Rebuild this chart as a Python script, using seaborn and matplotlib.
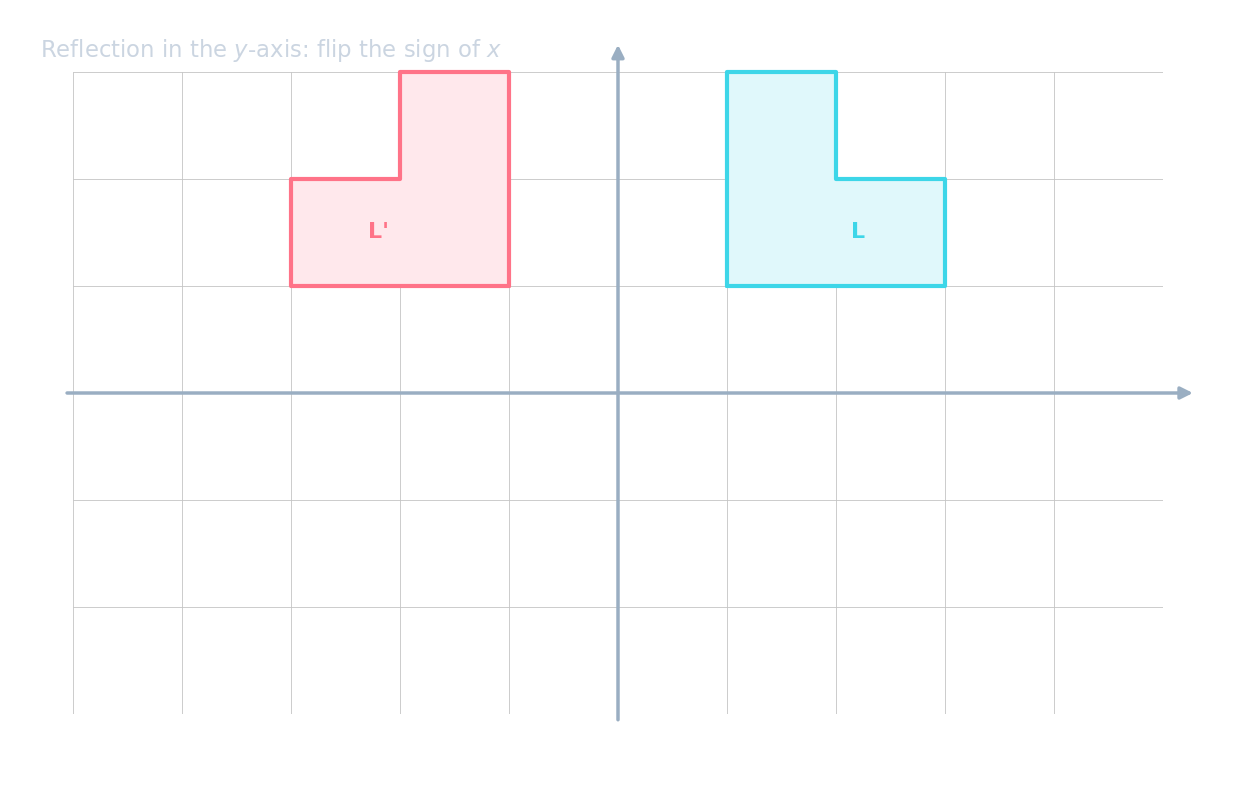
import matplotlib
matplotlib.use("Agg")
import matplotlib.pyplot as plt
import seaborn as sns
import pandas as pd

sns.set_theme(style="white")
plt.rcParams['font.family'] = ['DejaVu Sans']

# L shape and its reflection in the y-axis
shape_x = [1, 3, 3, 2, 2, 1, 1]
shape_y = [1, 1, 2, 2, 3, 3, 1]
refl_x = [-v for v in shape_x]
labels = ["L", "L'"]
label_x = [2.2, -2.2]
label_y = [1.5, 1.5]

df = pd.DataFrame({
    "x": shape_x + refl_x,
    "y": shape_y + shape_y,
    "shape": ["L"] * len(shape_x) + ["L'"] * len(refl_x),
    "order": list(range(len(shape_x))) * 2,
})

colors = {"L": "#3dd6e8", "L'": "#ff7388"}
fills = {"L": "#e0f8fb", "L'": "#ffe8ec"}

fig = plt.figure(figsize=(12.35, 7.86), dpi=100)
ax = fig.add_axes([73 / 1235, 72 / 786, 1090 / 1235, 642 / 786])

for name, g in df.groupby("shape"):
    ax.fill(g["x"], g["y"], color=fills[name], zorder=1)
    sns.lineplot(data=g, x="x", y="y", sort=False, color=colors[name],
                 linewidth=3, ax=ax, zorder=3, estimator=None)
for line in ax.lines:
    line.set_clip_on(False)

for lab, lx, ly in zip(labels, label_x, label_y):
    ax.text(lx, ly, lab, color=colors[lab], fontsize=16, fontweight="bold",
            ha="center", va="center", zorder=4)

ax.set_xlim(-5, 5)
ax.set_ylim(-3, 3)
ax.set_xticks(range(-5, 6))
ax.set_yticks(range(-3, 4))
ax.grid(True, color="#c4c4c4", linewidth=0.6)
ax.tick_params(left=False, bottom=False, labelleft=False, labelbottom=False)
ax.set_xlabel("")
ax.set_ylabel("")
for s in ax.spines.values():
    s.set_visible(False)

axis_col = "#9aaec2"
ax.annotate("", xy=(5.3, 0), xytext=(-5.08, 0), annotation_clip=False,
            arrowprops=dict(arrowstyle="-|>", color=axis_col, lw=2.5, mutation_scale=18), zorder=5)
ax.annotate("", xy=(0, 3.28), xytext=(0, -3.08), annotation_clip=False,
            arrowprops=dict(arrowstyle="-|>", color=axis_col, lw=2.5, mutation_scale=18), zorder=5)

fig.text(40 / 1235, 1 - 50 / 786, "Reflection in the $y$-axis: flip the sign of $x$",
         color="#cbd5e1", fontsize=16.4, va="center", ha="left")

fig.savefig("out.png", dpi=100)
